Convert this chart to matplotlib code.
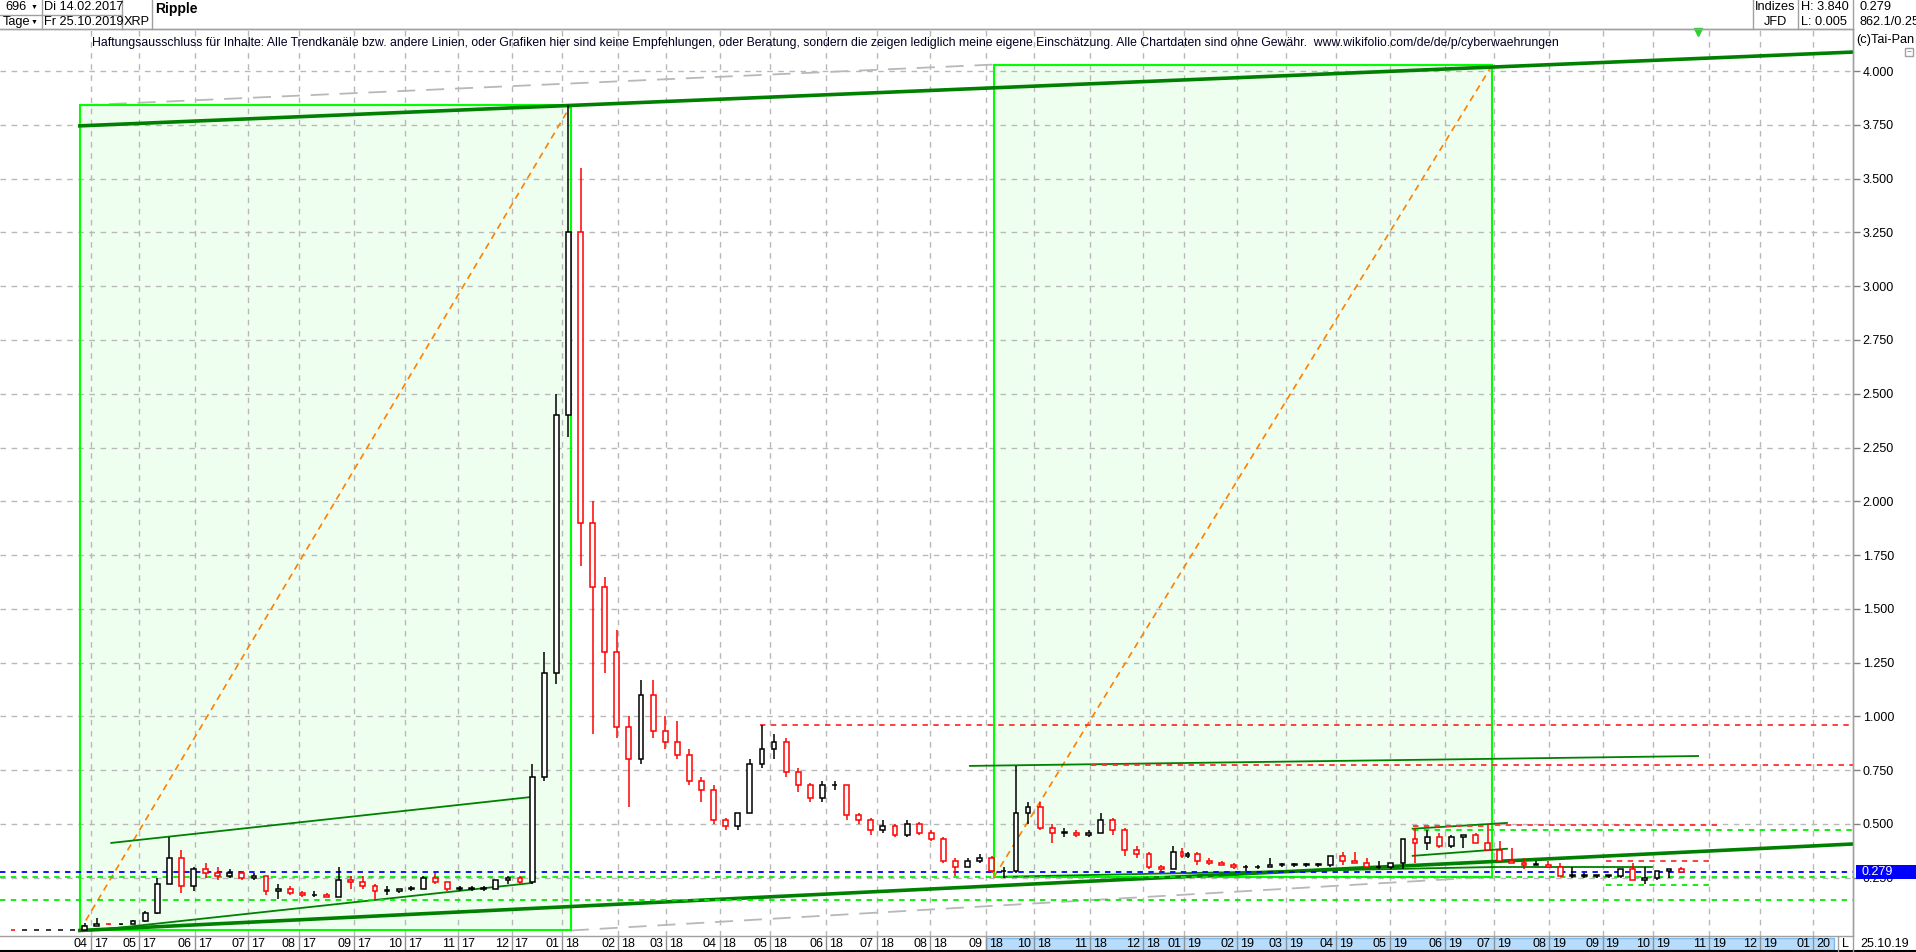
import numpy as np
import pandas as pd
import matplotlib
matplotlib.use("Agg")
import matplotlib.pyplot as plt
from matplotlib.patches import Rectangle
from matplotlib.lines import Line2D
import matplotlib.transforms as mtransforms

plt.rcParams['font.family'] = ['Liberation Sans', 'DejaVu Sans']

# ---------------- data ----------------
first_day = "2017-02-14"
last_day = "2019-10-25"
week_start = "2017-02-13"
w_open = [.0063, .0062, .0063, .0064, .0066, .0068, .0090, .028, .034, .033,
          .034, .048, .085, .22, .34, .21, .29, .27, .26, .27,
          .25, .26, .19, .20, .18, .17, .17, .16, .24, .23,
          .21, .19, .19, .20, .20, .25, .23, .20, .20, .20,
          .20, .24, .25, .23, .72, 1.20, 2.40, 3.25, 1.90, 1.60,
          1.30, .95, .80, 1.10, .93, .88, .82, .70, .66, .52,
          .49, .55, .78, .85, .88, .74, .68, .62, .68, .68,
          .54, .52, .47, .49, .45, .50, .46, .43, .33, .30,
          .33, .34, .28, .28, .55, .58, .48, .46, .46, .45,
          .46, .52, .47, .38, .36, .30, .29, .37, .35, .36,
          .33, .32, .31, .30, .30, .30, .31, .31, .31, .31,
          .31, .35, .33, .32, .30, .30, .32, .43, .41, .44,
          .40, .44, .45, .41, .38, .33, .32, .31, .31, .30,
          .26, .26, .26, .26, .26, .29, .24, .25, .28, .29, .29]
w_high = [.0066, .0065, .0067, .0068, .0070, .0095, .040, .063, .036, .036,
          .052, .095, .25, .44, .38, .30, .32, .30, .29, .28,
          .27, .26, .22, .21, .19, .19, .18, .30, .26, .26,
          .22, .21, .20, .21, .26, .27, .23, .21, .21, .21,
          .24, .26, .26, .78, 1.30, 2.50, 3.84, 3.55, 2.00, 1.65,
          1.40, 1.00, 1.17, 1.17, 1.00, .98, .85, .72, .68, .53,
          .55, .80, .96, .92, .90, .76, .69, .70, .70, .68,
          .55, .53, .52, .50, .52, .51, .47, .44, .34, .34,
          .36, .35, .30, .77, .60, .60, .50, .48, .47, .47,
          .55, .53, .48, .40, .37, .31, .40, .39, .37, .37,
          .34, .33, .32, .31, .31, .34, .32, .32, .32, .32,
          .32, .37, .37, .34, .33, .31, .33, .48, .47, .46,
          .45, .45, .46, .50, .42, .39, .34, .33, .33, .32,
          .30, .27, .26, .26, .26, .32, .30, .26, .28, .30, .31]
w_low = [.0058, .0059, .0060, .0061, .0063, .0065, .0088, .027, .031, .031,
         .033, .045, .080, .22, .18, .19, .25, .24, .25, .24,
         .24, .17, .15, .17, .16, .16, .16, .16, .20, .20,
         .15, .17, .18, .19, .20, .22, .19, .19, .19, .19,
         .20, .22, .22, .22, .70, 1.15, 2.30, 1.70, .92, 1.20,
         .90, .58, .78, .90, .85, .80, .68, .60, .50, .47,
         .47, .55, .76, .80, .72, .65, .60, .60, .66, .52,
         .50, .45, .46, .44, .44, .45, .42, .32, .26, .30,
         .32, .27, .25, .27, .50, .47, .41, .44, .44, .44,
         .46, .45, .35, .34, .29, .28, .29, .34, .34, .31,
         .31, .31, .29, .28, .29, .30, .30, .30, .30, .30,
         .30, .31, .33, .32, .29, .29, .29, .32, .38, .39,
         .39, .39, .42, .40, .37, .32, .29, .31, .30, .30,
         .25, .25, .25, .25, .25, .25, .22, .24, .25, .28, .27]
w_close = [.0062, .0063, .0064, .0066, .0068, .0090, .028, .034, .033, .034,
           .048, .085, .22, .34, .21, .29, .27, .26, .27, .25,
           .26, .19, .20, .18, .17, .17, .16, .24, .23, .21,
           .19, .19, .20, .20, .25, .23, .20, .20, .20, .20,
           .24, .25, .23, .72, 1.20, 2.40, 3.25, 1.90, 1.60, 1.30,
           .95, .80, 1.10, .93, .88, .82, .70, .66, .52, .49,
           .55, .78, .85, .88, .74, .68, .62, .68, .68, .54,
           .52, .47, .49, .45, .50, .46, .43, .33, .30, .33,
           .34, .28, .28, .55, .58, .48, .46, .46, .45, .46,
           .52, .47, .38, .36, .30, .29, .37, .35, .36, .33,
           .32, .31, .30, .30, .30, .31, .31, .31, .31, .31,
           .35, .33, .32, .30, .30, .32, .43, .41, .44, .40,
           .44, .45, .41, .38, .33, .32, .31, .31, .30, .26,
           .26, .26, .26, .26, .29, .24, .25, .28, .29, .279]

last_price = 0.279
hi_price, lo_price = 3.840, 0.005
missing_days = ["2018-12-24", "2018-12-25", "2018-12-26", "2018-12-31", "2019-01-01"]
y_ticks = [0.25 * k for k in range(1, 17)]

# drawn objects (date, value)
box1 = ("2017-03-27", 0.005, "2018-01-04", 3.84)
box2 = ("2018-09-06", 0.255, "2019-06-28", 4.03)
chan_top = [("2017-03-27", 3.745), ("2018-01-04", 3.84)]
chan_bot = [("2017-03-27", 0.005), ("2019-10-25", 0.372)]
thin_lines = [
    [("2017-04-13", 0.412), ("2017-12-13", 0.626)],
    [("2017-04-06", 0.008), ("2017-12-13", 0.226)],
    [("2018-08-23", 0.770), ("2019-10-25", 0.816)],
    [("2019-05-14", 0.478), ("2019-07-08", 0.505)],
    [("2019-05-14", 0.352), ("2019-07-08", 0.385)],
    [("2018-09-12", 0.255), ("2019-06-28", 0.300)],
    [("2019-06-28", 0.300), ("2019-09-30", 0.300)],
]
grey_lines = [
    [("2017-03-27", 3.84), ("2018-09-06", 4.03)],
    [("2018-01-04", 0.005), ("2019-06-28", 0.255)],
]
hlines_full = [(0.279, '#0000ff'), (0.2515, '#00ee00'), (0.145, '#00ee00')]
hlines_part = [
    (0.962, "2018-04-24", None, '#ff3030'),
    (0.776, "2018-11-01", None, '#ff3030'),
    (0.473, "2019-05-14", None, '#00ee00'),
    (0.490, "2019-05-14", "2019-06-26", '#ff3030'),
    (0.495, "2019-07-01", "2019-11-06", '#ff3030'),
    (0.328, "2019-09-03", "2019-11-01", '#ff3030'),
    (0.217, "2019-09-03", "2019-11-01", '#00ee00'),
]

disclaimer = ("Haftungsausschluss für Inhalte: Alle Trendkanäle bzw. andere Linien, oder Grafiken hier sind keine "
              "Empfehlungen, oder Beratung, sondern die zeigen lediglich meine eigene Einschätzung. Alle Chartdaten "
              "sind ohne Gewähr.  www.wikifolio.com/de/de/p/cyberwaehrungen")

# ---------------- calendar (bar index) ----------------
bars = pd.bdate_range(first_day, "2020-02-28", freq="C", holidays=missing_days)


def bi(d):
    return float(bars.searchsorted(pd.Timestamp(d)))


months = pd.date_range("2017-04-01", "2020-01-01", freq="MS")
grid_x = [bi(m) - 0.5 for m in months]

# ---------------- figure layout ----------------
W, H = 1916, 952
fig = plt.figure(figsize=(W / 100, H / 100), dpi=100)
fig.patch.set_facecolor('white')
ax_l, ax_r, ax_t, ax_b = 0, 1853, 29, 936
ax = fig.add_axes([ax_l / W, 1 - ax_b / H, (ax_r - ax_l) / W, (ax_b - ax_t) / H])

px_apr, px_jan = 90.7, 1813.0
ppb = (px_jan - px_apr) / (grid_x[-1] - grid_x[0])
ax.set_xlim(grid_x[0] - (px_apr - ax_l) / ppb, grid_x[0] + (ax_r - px_apr) / ppb)
ppu = (824 - 71) / 3.5
ax.set_ylim(0.5 - (ax_b - 824) / ppu, 4.0 + (71 - ax_t) / ppu)
x_right = ax.get_xlim()[1]

ax.spines['left'].set_visible(False)
for s in ['top', 'right', 'bottom']:
    ax.spines[s].set_color('#a0a0a0')
    ax.spines[s].set_linewidth(1)

ax.yaxis.tick_right()
ax.set_yticks(y_ticks)
ax.set_yticklabels([f"{v:.3f}" for v in y_ticks], fontsize=9)
ax.tick_params(axis='y', length=5, width=1, color='#808080', pad=2)
ax.set_xticks([])

# grid
for v in y_ticks:
    ax.axhline(v, color='#b8b8b8', lw=1, ls=(0, (4, 4)), zorder=1)
for gx in grid_x:
    ax.axvline(gx, color='#b8b8b8', lw=1, ls=(0, (4, 4)), zorder=1)

# boxes with diagonal
for (d0, v0, d1, v1) in [box1, box2]:
    x0, x1 = bi(d0), bi(d1)
    ax.add_patch(Rectangle((x0, v0), x1 - x0, v1 - v0, facecolor='#efffef',
                           edgecolor='none', lw=0, zorder=0.5))
    ax.add_patch(Rectangle((x0, v0), x1 - x0, v1 - v0, facecolor='none',
                           edgecolor='#00ff00', lw=1.5, zorder=3))
    ax.plot([x0, x1], [v0, v1], color='#ff8000', lw=1.2, ls=(0, (4, 3)), zorder=3)


def extend(pts, to_right=True):
    (d0, v0), (d1, v1) = pts
    x0, x1 = bi(d0), bi(d1)
    k = (v1 - v0) / (x1 - x0)
    xe = x_right if to_right else x1
    return [x0, xe], [v0, v0 + k * (xe - x0)]


xs, ys = extend(chan_top)
ax.plot(xs, ys, color='#008000', lw=2.6, zorder=4)
xs, ys = extend(chan_bot)
ax.plot(xs, ys, color='#008000', lw=2.6, zorder=4)
for ln in thin_lines:
    ax.plot([bi(d) for d, _ in ln], [v for _, v in ln], color='#008000', lw=1.3, zorder=4)
for ln in grey_lines:
    ax.plot([bi(d) for d, _ in ln], [v for _, v in ln], color='#b8b8b8', lw=1.3,
            ls=(0, (10, 6)), zorder=2)

for v, c in hlines_full:
    ax.axhline(v, color=c, lw=1.3, ls=(0, (3, 3)), zorder=5)
for v, d0, d1, c in hlines_part:
    x0 = bi(d0)
    x1 = bi(d1) if d1 else x_right
    ax.plot([x0, x1], [v, v], color=c, lw=1.3, ls=(0, (3, 3)), zorder=5)

# candles (weekly)
wk = pd.date_range(week_start, periods=len(w_close), freq="W-MON")
for i, m in enumerate(wk):
    i0 = max(bi(m), 0)
    i1 = bi(m + pd.Timedelta(days=5)) - 1
    xc = (i0 + i1) / 2
    n = i1 - i0 + 1
    o, h, l, c = w_open[i], w_high[i], w_low[i], w_close[i]
    col = 'black' if c >= o else '#ff0000'
    ax.plot([xc, xc], [l, h], color=col, lw=1.1, zorder=6, solid_capstyle='butt')
    bw = 0.4 * n
    lo_, hi_ = min(o, c), max(o, c)
    ax.add_patch(Rectangle((xc - bw / 2, lo_), bw, max(hi_ - lo_, 0.002),
                           facecolor='white', edgecolor=col, lw=1.1, zorder=7))

# last price marker at top
xl = bi(last_day)
ax.plot([xl], [ax.get_ylim()[1] - 0.012], marker='v', color='#30d030', ms=6, zorder=8, clip_on=False)

# disclaimer
ax.text((92 - ax_l) / (ax_r - ax_l), 1 - (43 - ax_t) / (ax_b - ax_t), disclaimer,
        transform=ax.transAxes, fontsize=8.87, va='center', ha='left', color='#000020', zorder=9)

# x labels
bt = mtransforms.blended_transform_factory(ax.transData, fig.transFigure)
fy = 1 - 944 / H
for m, gx in zip(months, grid_x):
    ax.text(gx - 1.2, fy, f"{m.month:02d}", transform=bt, ha='right', va='center', fontsize=9, clip_on=False)
    ax.text(gx + 1.2, fy, f"{m.year % 100:02d}", transform=bt, ha='left', va='center', fontsize=9, clip_on=False)
    ax.add_line(Line2D([gx, gx], [1 - 937 / H, 1 - 951 / H], transform=bt, color='#909090', lw=1, clip_on=False))


# ---------------- figure-level chrome ----------------
def fx(x):
    return x / W


def fyy(y):
    return 1 - y / H


def fline(x0, y0, x1, y1, c='#a0a0a0', lw=1):
    fig.add_artist(Line2D([fx(x0), fx(x1)], [fyy(y0), fyy(y1)], color=c, lw=lw))


def ftext(x, y, s, **kw):
    kw.setdefault('fontsize', 9)
    kw.setdefault('va', 'center')
    fig.text(fx(x), fyy(y), s, **kw)


# blue highlight band on time axis
fig.add_artist(Rectangle((fx(986), fyy(950)), fx(1834) - fx(986), fyy(938) - fyy(950),
                         transform=fig.transFigure, facecolor='#b8dcfb', edgecolor='#80b8e8', lw=1, zorder=0))
fline(0, 951, W, 951, c='black', lw=1.5)
fline(1838, 937, 1838, 952)
fline(1853, 0, 1853, 952)
ftext(1845.5, 944, "L", ha='center')
ftext(1860, 944, "25.10.19")

# header
fline(0, 29, 1853, 29)
fline(0, 15, 122, 15)
for x in [42, 122, 152]:
    fline(x, 0, x, 29)
for x in [1753, 1798]:
    fline(x, 0, x, 29)
ftext(5, 7.5, "696", fontsize=9.2)
ftext(31, 7.5, "▼", fontsize=5)
ftext(44, 7.5, "Di 14.02.2017", fontsize=9.2)
ftext(3, 22, "Tage", fontsize=9.2)
ftext(31, 22, "▼", fontsize=5)
ftext(44, 22, "Fr 25.10.2019", fontsize=9.2)
ftext(124, 22, "XRP", fontsize=9.2)
ftext(155, 9, "Ripple", fontsize=10, fontweight='bold')
ftext(1775.5, 7.5, "Indizes", fontsize=9.2, ha='center')
ftext(1775.5, 22, "JFD", fontsize=9.2, ha='center')
ftext(1801, 7.5, f"H: {hi_price:.3f}", fontsize=9.2)
ftext(1801, 22, f"L: {lo_price:.3f}", fontsize=9.2)
ftext(1859, 7.5, f"{last_price:.3f}", fontsize=9.2)
ftext(1859, 22, "862.1/0.25", fontsize=9.2)
ftext(1856, 40, "(c)Tai-Pan", fontsize=9.2)
fig.add_artist(Rectangle((fx(1905), fyy(56)), fx(8), fyy(0) - fyy(8), transform=fig.transFigure,
                         facecolor='white', edgecolor='#a0a0a0', lw=1))
ftext(1909, 52, "−", fontsize=6, ha='center', color='#808080')

# current price label box
yp = ax.transData.transform((0, last_price))[1]
ypix = H - yp
fig.add_artist(Rectangle((fx(1856), fyy(ypix + 7)), fx(W - 1856), fyy(0) - fyy(14),
                         transform=fig.transFigure, facecolor='#0000ff', edgecolor='none', zorder=10))
fig.text(fx(1862), fyy(ypix), f"{last_price:.3f}", color='white', fontsize=9, va='center', zorder=11)

fig.savefig("out.png", dpi=100)
